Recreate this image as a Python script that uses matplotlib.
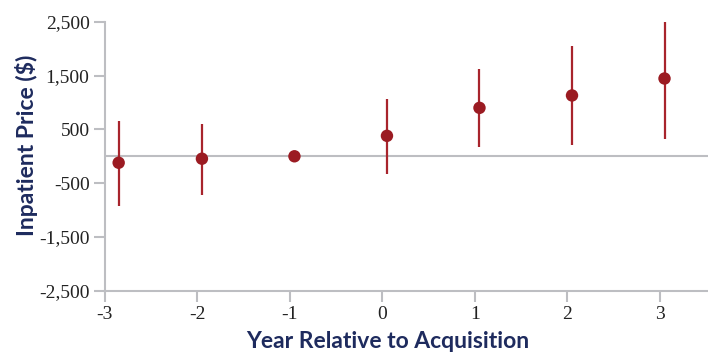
import numpy as np
import matplotlib
matplotlib.use("Agg")
import matplotlib.pyplot as plt
from matplotlib.ticker import FuncFormatter

plt.rcParams["axes.unicode_minus"] = False

# estimates
years = [-2.85, -1.95, -0.95, 0.05, 1.05, 2.05, 3.05]
price = [-120, -45, 0, 380, 900, 1130, 1445]
ci_low = [-925, -710, 0, -320, 180, 215, 325]
ci_high = [660, 600, 0, 1070, 1620, 2040, 2535]

xticks = [-3, -2, -1, 0, 1, 2, 3]
yticks = [2500, 1500, 500, -500, -1500, -2500]

red = "#9b1b22"
grey = "#bdbec2"
navy = "#1e2b5e"

fig = plt.figure(figsize=(7.08, 3.56), dpi=100)
ax = fig.add_axes([0.148, 0.183, 0.852, 0.756])

price = np.array(price)
has_err = [lo != hi for lo, hi in zip(ci_low, ci_high)]

ax.axhline(0, color=grey, lw=1.5, zorder=1)
for i in range(len(years)):
    if has_err[i]:
        ax.vlines(years[i], ci_low[i], ci_high[i], color="#a8242c", lw=1.6, zorder=2)
ax.scatter(years, price, s=80, color=red, zorder=3, edgecolors="none")

ax.set_xlim(-3, 3.52)
ax.set_ylim(-2500, 2500)
ax.set_xticks(xticks)
ax.set_yticks(yticks)
ax.yaxis.set_major_formatter(FuncFormatter(lambda v, p: f"{int(v):,}"))

for s in ["top", "right"]:
    ax.spines[s].set_visible(False)
for s in ["left", "bottom"]:
    ax.spines[s].set_color(grey)
    ax.spines[s].set_linewidth(1.5)

ax.tick_params(axis="both", color=grey, width=1.5, length=8, labelsize=14, pad=3)
for lbl in ax.get_xticklabels() + ax.get_yticklabels():
    lbl.set_family("Liberation Serif")
    lbl.set_color("#222222")

ax.set_ylabel("Inpatient Price ($)", fontsize=16.5, fontweight="bold", color=navy,
              family="Lato", labelpad=1)
ax.set_xlabel("Year Relative to Acquisition", fontsize=16.5, fontweight="bold",
              color=navy, family="Lato", labelpad=6)
ax.xaxis.label.set_x(0.469)
ax.yaxis.label.set_y(0.539)

fig.savefig("out.png", dpi=100)
